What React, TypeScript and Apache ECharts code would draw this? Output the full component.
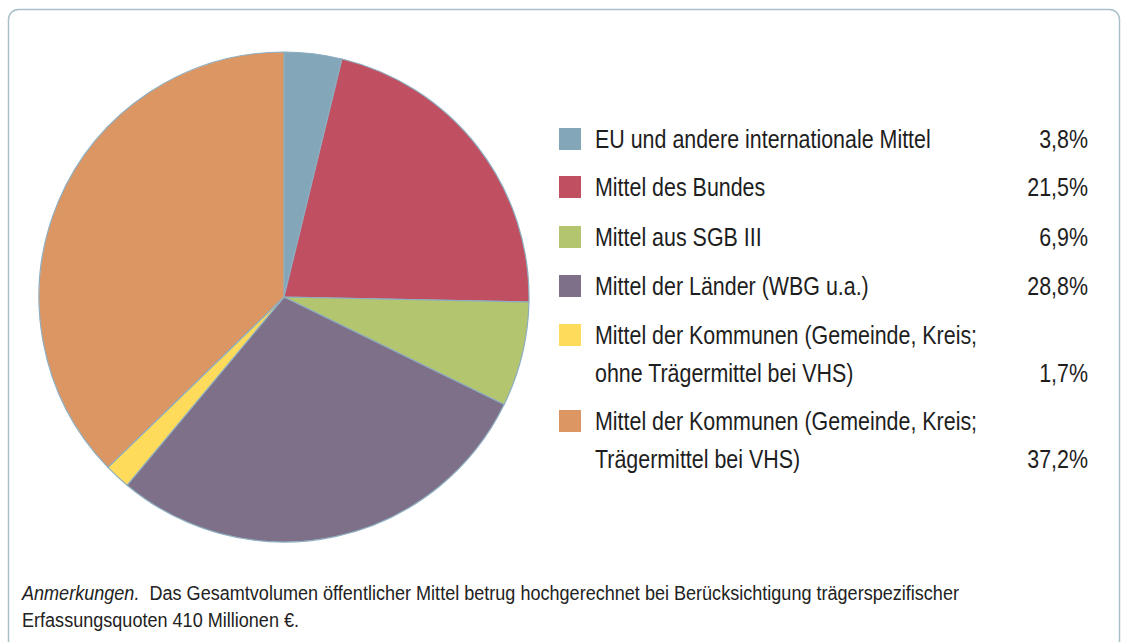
import React, { useEffect, useRef } from "react";
import * as echarts from "echarts";

const categories = [
  "EU und andere internationale Mittel",
  "Mittel des Bundes",
  "Mittel aus SGB III",
  "Mittel der Länder (WBG u.a.)",
  "Mittel der Kommunen (Gemeinde, Kreis;\nohne Trägermittel bei VHS)",
  "Mittel der Kommunen (Gemeinde, Kreis;\nTrägermittel bei VHS)",
];
const values = [3.8, 21.5, 6.9, 28.8, 1.7, 37.2];
const valueLabels = ["3,8%", "21,5%", "6,9%", "28,8%", "1,7%", "37,2%"];
const colors = ["#84a6b9", "#c04f61", "#b3c56e", "#7f7089", "#ffdb5c", "#db9663"];
const noteItalic = "Anmerkungen.";
const noteLine1 = "  Das Gesamtvolumen öffentlicher Mittel betrug hochgerechnet bei Berücksichtigung trägerspezifischer";
const noteLine2 = "Erfassungsquoten 410 Millionen €.";

const FONT = '"Liberation Sans", Arial, sans-serif';
const SX = 0.824;

export default function App() {
  const ref = useRef<HTMLDivElement>(null);
  useEffect(() => {
    const chart = echarts.init(ref.current!, undefined, { renderer: "svg" });
    const rowCenters = [139, 187, 237, 286, 335, 421];
    const graphics: any[] = [
      {
        type: "rect",
        shape: { x: 8.5, y: 9.5, width: 1111, height: 720, r: 10 },
        style: { fill: "none", stroke: "#a9c0ca", lineWidth: 1.5 },
        silent: true,
      },
    ];
    categories.forEach((c, i) => {
      const y = rowCenters[i];
      const lines = c.split("\n").length;
      graphics.push({
        type: "rect",
        shape: { x: 559, y: y - 11, width: 22, height: 22 },
        style: { fill: colors[i] },
      });
      graphics.push({
        type: "text",
        x: 595,
        y: y - 19,
        scaleX: SX,
        style: {
          text: c,
          font: `26px ${FONT}`,
          fill: "#1e1e1e",
          lineHeight: 38,
          verticalAlign: "top",
          align: "left",
        },
      });
      graphics.push({
        type: "text",
        x: 1088,
        y: y - 19 + (lines - 1) * 38,
        scaleX: SX,
        style: {
          text: valueLabels[i],
          font: `26px ${FONT}`,
          fill: "#1e1e1e",
          lineHeight: 38,
          verticalAlign: "top",
          align: "right",
        },
      });
    });
    graphics.push({
      type: "text",
      x: 22,
      y: 579,
      scaleX: 0.86,
      style: {
        text: `{it|${noteItalic}}{n|${noteLine1}}\n{n|${noteLine2}}`,
        verticalAlign: "top",
        rich: {
          it: { font: `italic 21px ${FONT}`, fill: "#222", lineHeight: 27 },
          n: { font: `21px ${FONT}`, fill: "#222", lineHeight: 27 },
        },
      },
    });
    chart.setOption({
      animation: false,
      series: [
        {
          type: "pie",
          center: [284, 297],
          radius: 245,
          startAngle: 90,
          clockwise: true,
          label: { show: false },
          labelLine: { show: false },
          silent: true,
          itemStyle: { borderColor: "#8eaec0", borderWidth: 1.2 },
          data: values.map((v, i) => ({
            value: v,
            name: categories[i],
            itemStyle: { color: colors[i] },
          })),
        },
      ],
      graphic: graphics,
    });
    return () => chart.dispose();
  }, []);
  return (
    <div
      ref={ref}
      style={{ position: "absolute", left: 0, top: 0, width: 1122, height: 642, background: "#fff" }}
    />
  );
}
